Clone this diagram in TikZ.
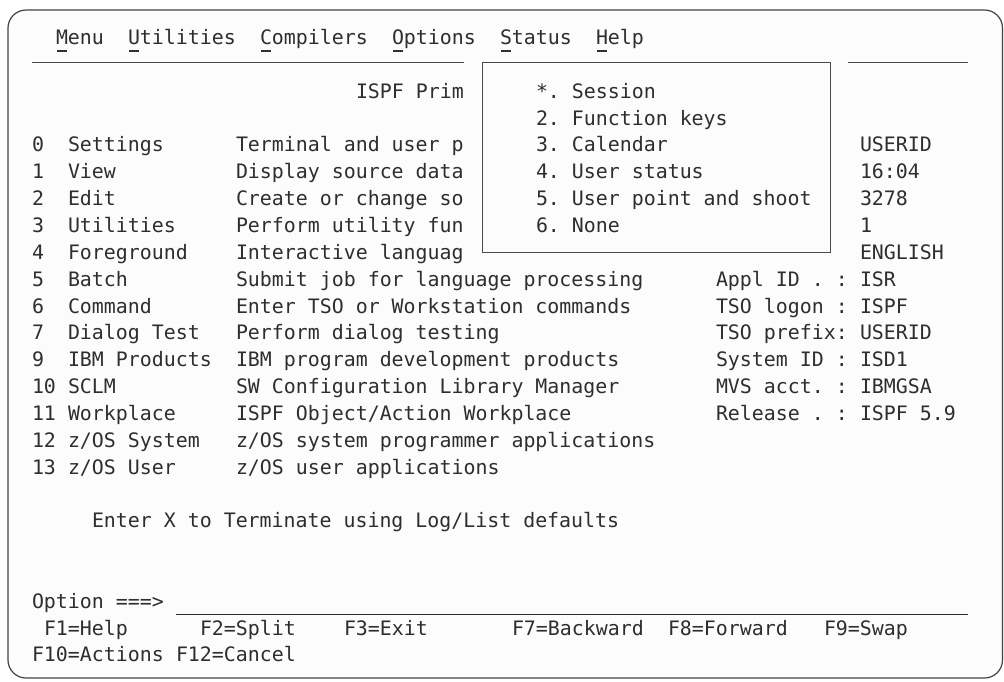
\documentclass[tikz,border=0pt]{standalone}
\usepackage{fontspec}
\newfontfamily\termfont{DejaVu Sans Mono}
\definecolor{ink}{HTML}{2E2E2E}
\definecolor{rule}{HTML}{4A4A4A}
\definecolor{bg}{HTML}{FCFCFC}
\newcommand\putt[4]{\node[term] (#1) at ({32+12*#2},{44.6+(#3-1)*26.84}) {#4};}
\newcommand\mnem[2]{\draw[mnemline] ({32+12*#1+1},51) -- ({32+12*#1+11},51) coordinate (#2);}
\tikzset{
  term/.style={anchor=base west, inner sep=0pt, outer sep=0pt, text=ink,
    font=\termfont\fontsize{19.9}{24}\selectfont\frenchspacing},
  ruleline/.style={draw=rule, line width=1pt},
  mnemline/.style={draw=ink, line width=1.3pt},
  frame/.style={draw=ink!90, line width=1.2pt, rounded corners=18pt, fill=bg}
}
\begin{document}
\begin{tikzpicture}[x=1pt,y=-1pt]
\useasboundingbox (0,0) rectangle (1004,681);
\fill[white] (0,0) rectangle (1004,681);
\draw[frame] (8,10) rectangle (1002.5,678);
% action bar
\putt{mMenu}{2}{1}{Menu}
\putt{mUtil}{8}{1}{Utilities}
\putt{mComp}{19}{1}{Compilers}
\putt{mOpt}{30}{1}{Options}
\putt{mStat}{39}{1}{Status}
\putt{mHelp}{47}{1}{Help}
\mnem{2}{u1}\mnem{8}{u2}\mnem{19}{u3}\mnem{30}{u4}\mnem{39}{u5}\mnem{47}{u6}
% separator
\coordinate (sepA) at (32,62); \coordinate (sepB) at (464,62);
\coordinate (sepC) at (848,62); \coordinate (sepD) at (968,62);
\draw[ruleline] (sepA) -- (sepB);
\draw[ruleline] (sepC) -- (sepD);
% popup
\node[ruleline, fill=none, anchor=north west, inner sep=0pt, minimum width=348pt, minimum height=189.5pt] (popup) at (482,62) {};
\putt{title}{27}{3}{ISPF Prim}
\putt{p1}{42}{3}{*. Session}
\putt{p2}{42}{4}{2. Function keys}
\putt{p3}{42}{5}{3. Calendar}
\putt{p4}{42}{6}{4. User status}
\putt{p5}{42}{7}{5. User point and shoot}
\putt{p6}{42}{8}{6. None}
% options
\putt{n0}{0}{5}{0}   \putt{o0}{3}{5}{Settings}     \putt{d0}{17}{5}{Terminal and user p}
\putt{n1}{0}{6}{1}   \putt{o1}{3}{6}{View}         \putt{d1}{17}{6}{Display source data}
\putt{n2}{0}{7}{2}   \putt{o2}{3}{7}{Edit}         \putt{d2}{17}{7}{Create or change so}
\putt{n3}{0}{8}{3}   \putt{o3}{3}{8}{Utilities}    \putt{d3}{17}{8}{Perform utility fun}
\putt{n4}{0}{9}{4}   \putt{o4}{3}{9}{Foreground}   \putt{d4}{17}{9}{Interactive languag}
\putt{n5}{0}{10}{5}  \putt{o5}{3}{10}{Batch}       \putt{d5}{17}{10}{Submit job for language processing}
\putt{n6}{0}{11}{6}  \putt{o6}{3}{11}{Command}     \putt{d6}{17}{11}{Enter TSO or Workstation commands}
\putt{n7}{0}{12}{7}  \putt{o7}{3}{12}{Dialog Test} \putt{d7}{17}{12}{Perform dialog testing}
\putt{n9}{0}{13}{9}  \putt{o9}{3}{13}{IBM Products} \putt{d9}{17}{13}{IBM program development products}
\putt{n10}{0}{14}{10} \putt{o10}{3}{14}{SCLM}      \putt{d10}{17}{14}{SW Configuration Library Manager}
\putt{n11}{0}{15}{11} \putt{o11}{3}{15}{Workplace} \putt{d11}{17}{15}{ISPF Object/Action Workplace}
\putt{n12}{0}{16}{12} \putt{o12}{3}{16}{z/OS System} \putt{d12}{17}{16}{z/OS system programmer applications}
\putt{n13}{0}{17}{13} \putt{o13}{3}{17}{z/OS User} \putt{d13}{17}{17}{z/OS user applications}
% status values
\putt{v1}{69}{5}{USERID}
\putt{v2}{69}{6}{16:04}
\putt{v3}{69}{7}{3278}
\putt{v4}{69}{8}{1}
\putt{v5}{69}{9}{ENGLISH}
\putt{k6}{57}{10}{Appl ID . :}  \putt{v6}{69}{10}{ISR}
\putt{k7}{57}{11}{TSO logon :}  \putt{v7}{69}{11}{ISPF}
\putt{k8}{57}{12}{TSO prefix:}  \putt{v8}{69}{12}{USERID}
\putt{k9}{57}{13}{System ID :}  \putt{v9}{69}{13}{ISD1}
\putt{k10}{57}{14}{MVS acct. :} \putt{v10}{69}{14}{IBMGSA}
\putt{k11}{57}{15}{Release . :} \putt{v11}{69}{15}{ISPF 5.9}
% bottom
\putt{enter}{5}{19}{Enter X to Terminate using Log/List defaults}
\putt{opt}{0}{22}{Option ===>}
\coordinate (ulA) at (176,614.5); \coordinate (ulB) at (968,614.5);
\draw[draw=ink, line width=1pt] (ulA) -- (ulB);
\putt{f1}{1}{23}{F1=Help}
\putt{f2}{14}{23}{F2=Split}
\putt{f3}{26}{23}{F3=Exit}
\putt{f7}{40}{23}{F7=Backward}
\putt{f8}{53}{23}{F8=Forward}
\putt{f9}{66}{23}{F9=Swap}
\putt{f10}{0}{24}{F10=Actions}
\putt{f12}{12}{24}{F12=Cancel}
\end{tikzpicture}
\end{document}
